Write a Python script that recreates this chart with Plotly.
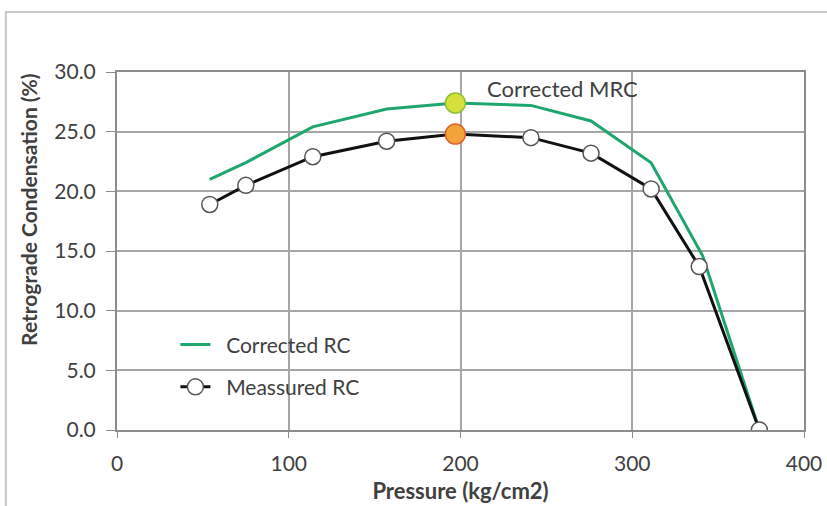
import plotly.graph_objects as go

# Data
pressure_measured = [54, 75, 114, 157, 197, 241, 276, 311, 339, 374]
rc_measured = [18.9, 20.5, 22.9, 24.2, 24.8, 24.5, 23.2, 20.2, 13.7, 0.0]

pressure_corrected = [54, 75, 114, 157, 197, 241, 276, 311, 341, 374]
rc_corrected = [21.0, 22.4, 25.4, 26.9, 27.4, 27.2, 25.9, 22.4, 14.6, 0.0]

mrc_pressure = [197]
mrc_corrected = [27.4]
mrc_measured = [24.8]

x_ticks = [0, 100, 200, 300, 400]
y_ticks = [0, 5, 10, 15, 20, 25, 30]

FONT = "Lato, 'Open Sans', sans-serif"
TXT = "#404040"
GRID = "#a6a6a6"
NB = "\u00a0"

fig = go.Figure()

fig.add_trace(go.Scatter(
    x=pressure_corrected, y=rc_corrected, mode="lines",
    name=NB * 2 + "Corrected RC", line=dict(color="#1fa56e", width=3),
    legendgroup="a",
))
fig.add_trace(go.Scatter(
    x=pressure_measured, y=rc_measured, mode="lines+markers",
    name=NB * 2 + "Meassured RC", line=dict(color="#111111", width=3),
    marker=dict(symbol="circle", size=16, color="white",
                line=dict(color="#555555", width=1.5)),
    legendgroup="b",
))
fig.add_trace(go.Scatter(
    x=mrc_pressure, y=mrc_corrected, mode="markers", showlegend=False,
    marker=dict(size=20, color="#d6e03c", line=dict(color="#8fbf3a", width=1.5)),
))
fig.add_trace(go.Scatter(
    x=mrc_pressure, y=mrc_measured, mode="markers", showlegend=False,
    marker=dict(size=20, color="#f2a33a", line=dict(color="#e0602a", width=1.5)),
))

fig.add_annotation(
    x=214, y=28.6, xref="x", yref="y", text="Corrected MRC",
    showarrow=False, xanchor="left", yanchor="middle",
    font=dict(family=FONT, size=22, color=TXT),
)

# y-axis title
fig.add_annotation(
    x=-0.128, y=0.615, xref="paper", yref="paper",
    text="<b>Retrograde Condensation (%)</b>", textangle=-90,
    showarrow=False, xanchor="center", yanchor="middle",
    font=dict(family=FONT, size=21, color=TXT),
)

# outer frame
fig.add_shape(type="rect", xref="paper", yref="paper",
              x0=-0.1618, x1=1.06, y0=-0.25, y1=1.1676,
              line=dict(color="#c8c8c8", width=2), fillcolor="rgba(0,0,0,0)",
              layer="below")

fig.update_layout(
    width=827, height=506,
    margin=dict(l=117, r=23, t=72, b=76),
    paper_bgcolor="white", plot_bgcolor="white",
    font=dict(family=FONT, color=TXT),
    showlegend=True,
    legend=dict(x=0.085, y=0.295, xanchor="left", yanchor="top",
                bgcolor="rgba(0,0,0,0)", font=dict(family=FONT, size=21, color=TXT),
                tracegroupgap=12, traceorder="grouped"),
    xaxis=dict(range=[0, 400], tickvals=x_ticks, ticktext=[str(v) for v in x_ticks],
               showgrid=True, gridcolor=GRID, gridwidth=1.5,
               showline=True, linecolor="#8c8c8c", linewidth=2, mirror=True,
               ticks="outside", ticklen=6, tickcolor="#8c8c8c",
               ticklabelstandoff=8,
               tickfont=dict(family=FONT, size=21, color=TXT),
               zeroline=False, automargin=False,
               title=dict(text="<b>Pressure (kg/cm2)</b>", standoff=9,
                          font=dict(family=FONT, size=22, color=TXT))),
    yaxis=dict(range=[0, 30], tickvals=y_ticks, ticktext=[f"{v:.1f}" for v in y_ticks],
               showgrid=True, gridcolor=GRID, gridwidth=1.5,
               showline=True, linecolor="#8c8c8c", linewidth=2, mirror=True,
               ticks="outside", ticklen=9, tickcolor="#8c8c8c",
               ticklabelstandoff=6,
               tickfont=dict(family=FONT, size=21, color=TXT),
               zeroline=False, automargin=False),
)

fig.write_html("out.html")
